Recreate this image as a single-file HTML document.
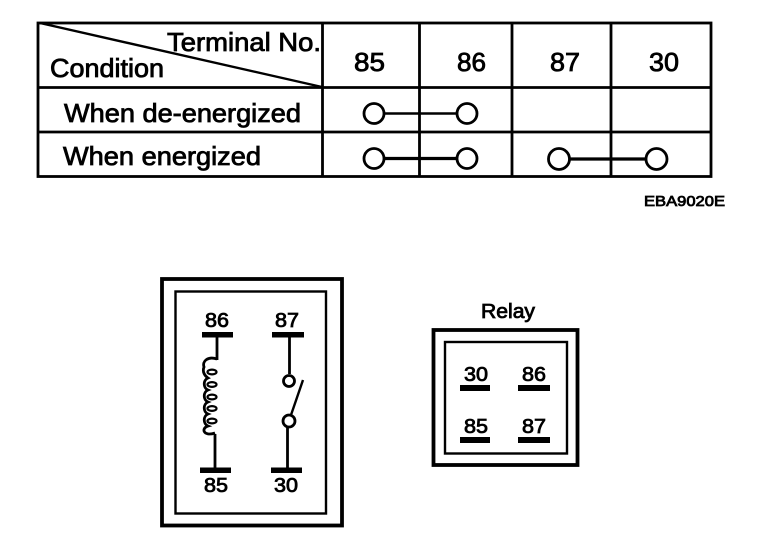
<!DOCTYPE html>
<html>
<head>
<meta charset="utf-8">
<style>
html,body{margin:0;padding:0;background:#fff}
svg{display:block}
text{font-family:"Liberation Sans",sans-serif;fill:#000;stroke:#000;stroke-width:.8}
</style>
</head>
<body>
<svg width="768" height="556" viewBox="0 0 768 556" xmlns="http://www.w3.org/2000/svg">
<g fill="none" stroke="#000" stroke-width="2.800">
<rect x="38" y="23" width="673" height="153.5"/>
<path d="M38 87.5H711M38 132H711M322.500 23V176.500M419.500 23V176.500M512 23V176.500M611 23V176.500"/>
<path d="M40 23L322 87" stroke-width="2.400"/>
<path d="M384 113.500H457" stroke-width="2.400"/>
<path d="M384 158.500H457M570 159H646" stroke-width="3.200"/>
<circle cx="374" cy="113.500" r="10"/>
<circle cx="467" cy="113.500" r="10"/>
<circle cx="374" cy="158.500" r="10"/>
<circle cx="467" cy="158.500" r="10"/>
<circle cx="559" cy="159" r="10.500"/>
<circle cx="656.500" cy="159" r="10.500"/>
<rect x="162" y="279" width="180" height="246.500" stroke-width="3.800"/>
<rect x="175.500" y="291.500" width="150.500" height="222" stroke-width="2.400"/>
<rect x="433.500" y="330" width="144" height="135" stroke-width="3.800"/>
<rect x="445" y="342" width="122" height="111.500" stroke-width="2.400"/>
<path d="M217 336V360M215 434V470M289.500 336V374M287.500 427V470" stroke-width="2.800"/>
<path d="M217 359C208 356 202 361 204 367C202 372 205 376 208 378C203 380 203 388 208 390C203 392 203 400 208 402C203 404 203 412 208 414C203 416 203 424 208 426C201 428 203 437 215 433"/>
<g stroke-width="2.200">
<ellipse cx="212" cy="372" rx="4.500" ry="2.400"/>
<ellipse cx="212" cy="384.500" rx="4.500" ry="2.400"/>
<ellipse cx="212" cy="397" rx="4.500" ry="2.400"/>
<ellipse cx="212" cy="408.500" rx="4.500" ry="2.400"/>
<ellipse cx="212" cy="421" rx="4.500" ry="2.400"/>
</g>
<circle cx="289" cy="381" r="5.500"/>
<circle cx="289" cy="421" r="6"/>
<path d="M291 415L303 380" stroke-width="2.400"/>
</g>
<g fill="#000">
<rect x="202" y="332" width="31" height="5.500"/>
<rect x="272" y="332" width="32" height="5.500"/>
<rect x="200" y="467.500" width="31" height="5.500"/>
<rect x="271" y="467.500" width="31" height="5.500"/>
<rect x="460" y="385" width="30" height="6"/>
<rect x="518" y="385" width="32" height="6"/>
<rect x="460" y="437" width="30" height="6"/>
<rect x="518" y="437" width="32" height="6"/>
</g>
<g font-size="26">
<text x="167" y="51" textLength="154" lengthAdjust="spacingAndGlyphs">Terminal No.</text>
<text x="50" y="77" textLength="114" lengthAdjust="spacingAndGlyphs">Condition</text>
<text x="64" y="122" textLength="237" lengthAdjust="spacingAndGlyphs">When de-energized</text>
<text x="63" y="165" textLength="198" lengthAdjust="spacingAndGlyphs">When energized</text>
<text x="354" y="71" textLength="31" lengthAdjust="spacingAndGlyphs">85</text>
<text x="457" y="71" textLength="29" lengthAdjust="spacingAndGlyphs">86</text>
<text x="550" y="71" textLength="30" lengthAdjust="spacingAndGlyphs">87</text>
<text x="649" y="71" textLength="30" lengthAdjust="spacingAndGlyphs">30</text>
</g>
<text x="644" y="206" font-size="14.500" textLength="81" lengthAdjust="spacingAndGlyphs">EBA9020E</text>
<g font-size="20">
<text x="205" y="327" textLength="24" lengthAdjust="spacingAndGlyphs">86</text>
<text x="275" y="327" textLength="24" lengthAdjust="spacingAndGlyphs">87</text>
<text x="204" y="492" textLength="24" lengthAdjust="spacingAndGlyphs">85</text>
<text x="274" y="492" textLength="24" lengthAdjust="spacingAndGlyphs">30</text>
<text x="481" y="318" textLength="54" lengthAdjust="spacingAndGlyphs">Relay</text>
<text x="464" y="381" textLength="24" lengthAdjust="spacingAndGlyphs">30</text>
<text x="522" y="381" textLength="24" lengthAdjust="spacingAndGlyphs">86</text>
<text x="464" y="433" textLength="24" lengthAdjust="spacingAndGlyphs">85</text>
<text x="522" y="433" textLength="24" lengthAdjust="spacingAndGlyphs">87</text>
</g>
</svg>
</body>
</html>
